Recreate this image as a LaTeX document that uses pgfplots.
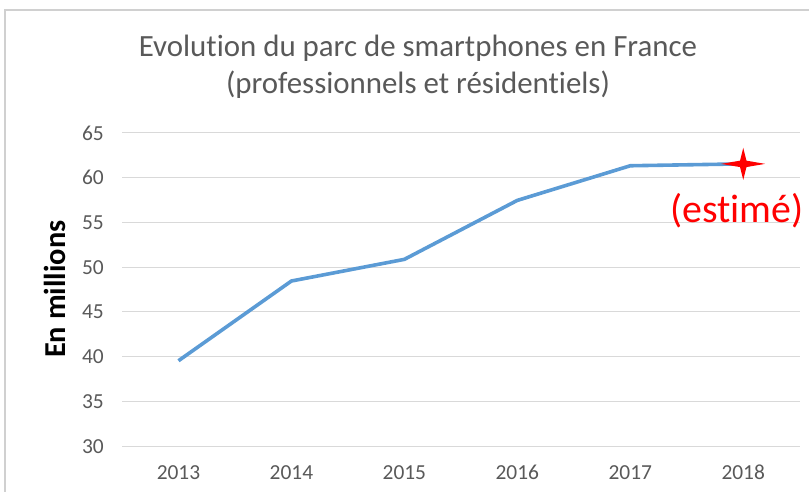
\documentclass[border=0pt]{standalone}
\usepackage{fontspec}
\setmainfont{Carlito}[Ligatures=NoCommon]
\usepackage{pgfplots}
\pgfplotsset{compat=1.18}
\definecolor{txtgray}{HTML}{595959}
\definecolor{gridgray}{HTML}{D9D9D9}
\definecolor{framegray}{HTML}{D0D0D0}
\definecolor{lineblue}{HTML}{5B9BD5}
\pgfdeclareplotmark{star4}{%
  \pgfpathmoveto{\pgfpoint{22bp}{0bp}}%
  \pgfpathlineto{\pgfpoint{3.2bp}{3.2bp}}%
  \pgfpathlineto{\pgfpoint{0bp}{16bp}}%
  \pgfpathlineto{\pgfpoint{-3.2bp}{3.2bp}}%
  \pgfpathlineto{\pgfpoint{-22bp}{0bp}}%
  \pgfpathlineto{\pgfpoint{-3.2bp}{-3.2bp}}%
  \pgfpathlineto{\pgfpoint{0bp}{-16bp}}%
  \pgfpathlineto{\pgfpoint{3.2bp}{-3.2bp}}%
  \pgfpathclose
  \pgfusepathqfill}
\pgfplotstableread{
x y
0 39.55
1 48.46
2 50.88
3 57.47
4 61.34
5 61.55
}\parcdata
\pgfplotstableread{
x y
5 61.55
}\estdata
\begin{document}
\begin{tikzpicture}
\useasboundingbox (-122bp,-45.8bp) rectangle (687bp,446.2bp);
\draw[framegray, line width=1.3bp] (-117bp,-80bp) -- (-117bp,436.2bp) -- (720bp,436.2bp);
\begin{axis}[
  at={(0,0)}, anchor=south west,
  scale only axis, width=677.7bp, height=313.2bp,
  xmin=-0.5, xmax=5.5, ymin=30, ymax=65,
  xtick={0,1,2,3,4,5},
  xticklabels={2013,2014,2015,2016,2017,2018},
  ytick={30,35,40,45,50,55,60,65},
  ymajorgrids,
  grid style={gridgray, line width=1bp},
  axis line style={draw=none},
  major tick length=0pt,
  tick style={draw=none},
  /pgf/number format/assume math mode=true,
  ticklabel style={font=\fontsize{21.5}{25}\selectfont, text=txtgray},
  yticklabel style={inner sep=0pt, anchor=east, xshift=-18bp},
  xticklabel style={inner sep=0pt, anchor=base, yshift=-33bp},
  clip=false,
]
\addplot[lineblue, line width=3.6bp, no marks] table[x=x,y=y] {\parcdata};
\addplot[red, only marks, mark=star4] table[x=x,y=y] {\estdata};
\node[text=red, font=\fontsize{40}{46}\selectfont, anchor=base, inner sep=0pt] at (axis cs:4.944,55.05) {(estimé)};
\end{axis}
\node[anchor=base, text=txtgray, font=\fontsize{31}{36}\selectfont, inner sep=0pt] at (296bp,389.2bp) {Evolution du parc de smartphones en France};
\node[anchor=base, text=txtgray, font=\fontsize{31}{36}\selectfont, inner sep=0pt] at (296bp,352.9bp) {(professionnels et résidentiels)};
\node[anchor=base, rotate=90, font=\bfseries\fontsize{30.5}{35}\selectfont, inner sep=0pt] at (-56bp,157bp) {En millions};
\end{tikzpicture}
\end{document}
